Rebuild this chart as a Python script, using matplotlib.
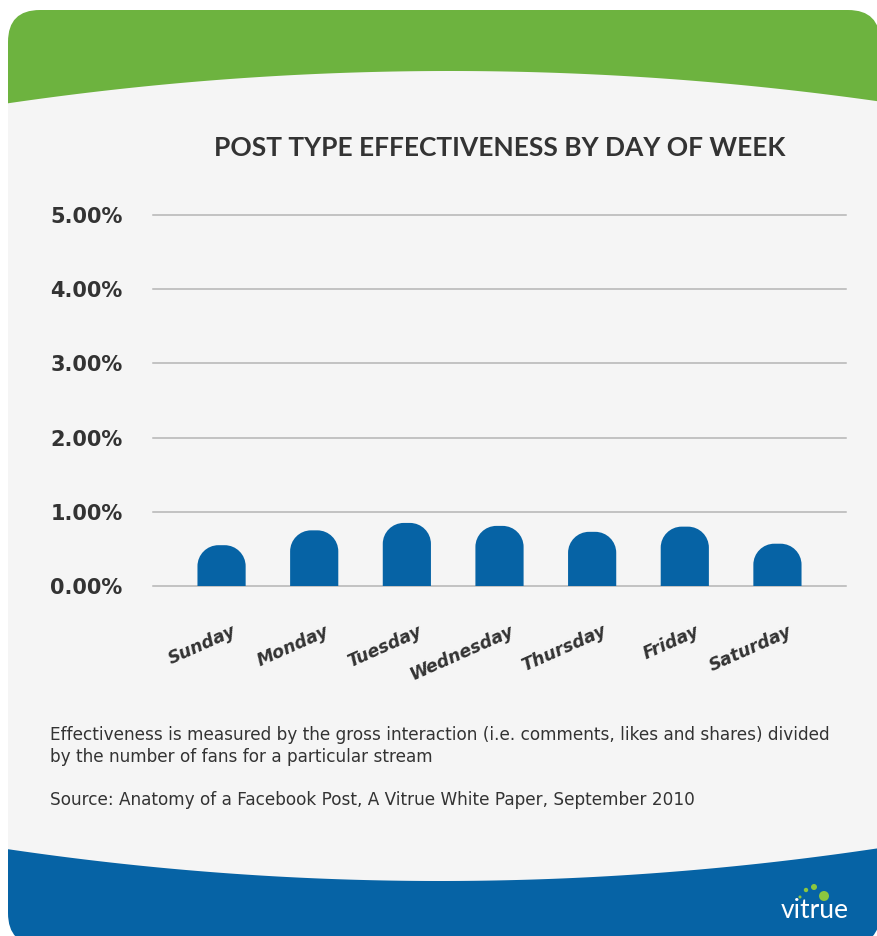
import numpy as np
import matplotlib
matplotlib.use("Agg")
import matplotlib.pyplot as plt
from matplotlib.patches import FancyBboxPatch, Polygon, PathPatch, Circle
from matplotlib.path import Path
from matplotlib.transforms import ScaledTranslation

# data (percent)
days = ["Sunday", "Monday", "Tuesday", "Wednesday", "Thursday", "Friday", "Saturday"]
effectiveness = [0.55, 0.75, 0.85, 0.81, 0.73, 0.80, 0.57]
y_ticks = [0, 1, 2, 3, 4, 5]

title = "POST TYPE EFFECTIVENESS BY DAY OF WEEK"
note = ("Effectiveness is measured by the gross interaction (i.e. comments, likes and shares) divided\n"
        "by the number of fans for a particular stream")
source = "Source: Anatomy of a Facebook Post, A Vitrue White Paper, September 2010"

GREEN = "#6db33f"
BLUE = "#0663a5"
BG = "#f5f5f5"
TEXT = "#333333"
FONT = "Lato"
WIDE = "DejaVu Sans"

W, H = 877, 936
fig = plt.figure(figsize=(W / 100, H / 100), dpi=100)
fig.patch.set_facecolor("white")

# background card, pixel coordinates
bg = fig.add_axes([0, 0, 1, 1])
bg.set_xlim(0, W)
bg.set_ylim(H, 0)
bg.axis("off")

card = FancyBboxPatch((8, 10), 872, 935, boxstyle="round,pad=0,rounding_size=32",
                      facecolor=BG, edgecolor="none")
bg.add_patch(card)

xs = np.linspace(-10, W + 10, 200)
top_curve = 71 + 32 * ((xs - 450) / 440) ** 2
green = Polygon(np.vstack([np.column_stack([xs, top_curve]),
                           [[W + 10, 0], [-10, 0]]]),
                closed=True, facecolor=GREEN, edgecolor="none")
bg.add_patch(green)
green.set_clip_path(card)

bot_curve = 881 - 33 * ((xs - 440) / 440) ** 2
blue = Polygon(np.vstack([np.column_stack([xs, bot_curve]),
                          [[W + 10, H + 20], [-10, H + 20]]]),
               closed=True, facecolor=BLUE, edgecolor="none")
bg.add_patch(blue)
blue.set_clip_path(card)

# logo
bg.text(815, 911, "vitrue", color="white", fontsize=19, family=FONT,
        ha="center", va="center", zorder=5)
for cx, cy, r in [(800, 897, 1.5), (806, 890, 2.2), (814, 887, 3.0), (824, 896, 5.0)]:
    bg.add_patch(Circle((cx, cy), r, facecolor="#8cc63f", edgecolor="none", zorder=5))

# title and notes
fig.text(500 / W, 1 - 148 / H, title, ha="center", va="center",
         fontsize=19, fontweight="bold", color=TEXT, family=FONT)
fig.text(50 / W, 1 - 726 / H, note, ha="left", va="top", fontsize=12.2,
         color=TEXT, family=WIDE, linespacing=1.25)
fig.text(50 / W, 1 - 800 / H, source, ha="left", va="center", fontsize=12.2,
         color=TEXT, family=WIDE)

# chart
ax = fig.add_axes([153 / W, 1 - 586 / H, (846 - 153) / W, (586 - 215) / H])
ax.set_facecolor("none")
ax.set_xlim(-0.74, 6.74)
ax.set_ylim(0, 5)
for s in ax.spines.values():
    s.set_visible(False)
for t in y_ticks:
    ax.axhline(t, color="#b5b5b5", lw=1.1, zorder=1, clip_on=False)

ax.set_yticks(y_ticks)
ax.set_yticklabels([f"{t:.2f}%" for t in y_ticks], fontsize=15,
                   fontweight="bold", color=TEXT, family=WIDE)
ax.tick_params(axis="y", length=0, pad=22)

x = np.arange(len(days))
ax.set_xticks(x)
ax.set_xticklabels(days, rotation=24, ha="right", rotation_mode="anchor",
                   fontsize=12.5, fontweight="bold", style="oblique",
                   color=TEXT, family=WIDE)
ax.tick_params(axis="x", length=0, pad=26)
shift = ScaledTranslation(10 / 100, 0, fig.dpi_scale_trans)
for lab in ax.get_xticklabels():
    lab.set_transform(lab.get_transform() + shift)

# rounded-top bars
bar_w = 0.52
p0 = ax.transData.transform((0, 0))
p1 = ax.transData.transform((1, 1))
px_x = p1[0] - p0[0]
px_y = p1[1] - p0[1]
r_px = 21
k = 0.5523
for xi, h in zip(x, effectiveness):
    x0, x1 = xi - bar_w / 2, xi + bar_w / 2
    rx = r_px / px_x
    ry = min(r_px / px_y, h)
    verts = [
        (x0, 0), (x0, h - ry),
        (x0, h - ry + k * ry), (x0 + rx - k * rx, h), (x0 + rx, h),
        (x1 - rx, h),
        (x1 - rx + k * rx, h), (x1, h - ry + k * ry), (x1, h - ry),
        (x1, 0), (x0, 0),
    ]
    codes = [Path.MOVETO, Path.LINETO,
             Path.CURVE4, Path.CURVE4, Path.CURVE4,
             Path.LINETO,
             Path.CURVE4, Path.CURVE4, Path.CURVE4,
             Path.LINETO, Path.CLOSEPOLY]
    ax.add_patch(PathPatch(Path(verts, codes), facecolor=BLUE,
                           edgecolor="none", zorder=3))

fig.savefig("out.png", dpi=100, facecolor=fig.get_facecolor())
